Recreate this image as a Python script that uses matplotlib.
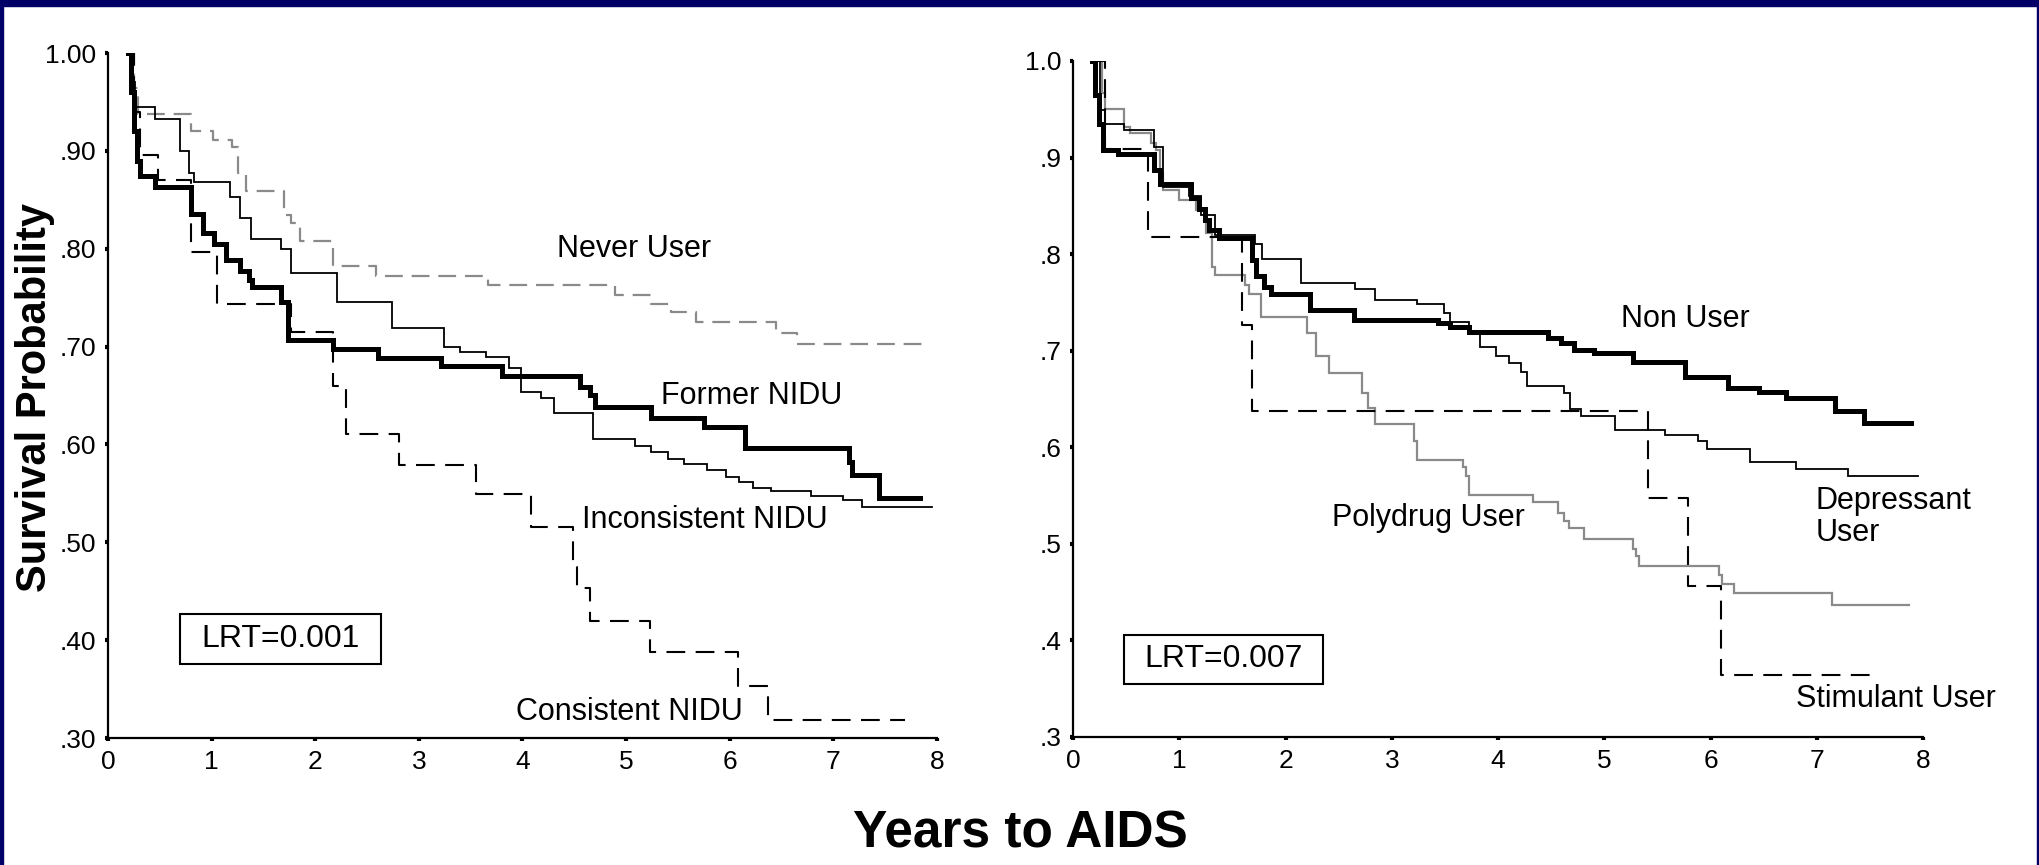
import matplotlib
matplotlib.use('Agg')
import matplotlib.pyplot as plt
from matplotlib.patches import Rectangle

plt.rcParams['font.family'] = ['Liberation Sans', 'DejaVu Sans']

# --- left panel: non-injection drug use groups (step change points, survival after step)
never_t = [0.19, 0.25, 0.29, 0.80, 1.01, 1.20, 1.26, 1.33, 1.70, 1.77, 1.85, 2.17, 2.59,
           3.67, 4.89, 5.24, 5.43, 5.67, 6.45, 6.65, 7.93]
never_s = [1.00, 0.964, 0.938, 0.920, 0.911, 0.904, 0.877, 0.859, 0.834, 0.826, 0.808, 0.782,
           0.772, 0.763, 0.753, 0.744, 0.735, 0.725, 0.714, 0.703, 0.703]

former_t = [0.19, 0.22, 0.25, 0.28, 0.31, 0.45, 0.80, 0.92, 1.02, 1.14, 1.27, 1.36, 1.39, 1.67,
            1.74, 2.17, 2.61, 3.21, 3.80, 4.56, 4.65, 4.70, 5.24, 5.75, 6.15, 7.15, 7.18, 7.44,
            7.84]
former_s = [1.00, 0.960, 0.920, 0.890, 0.874, 0.863, 0.836, 0.816, 0.805, 0.788, 0.777, 0.768,
            0.761, 0.746, 0.707, 0.698, 0.688, 0.680, 0.670, 0.659, 0.651, 0.638, 0.627, 0.618,
            0.596, 0.582, 0.569, 0.545, 0.545]

incons_t = [0.19, 0.22, 0.26, 0.45, 0.70, 0.78, 0.83, 1.18, 1.27, 1.38, 1.67, 1.77, 2.21, 2.74,
            3.24, 3.40, 3.65, 3.87, 3.99, 4.18, 4.30, 4.68, 5.09, 5.24, 5.40, 5.56, 5.78, 5.96,
            6.09, 6.22, 6.40, 6.78, 7.09, 7.28, 7.95]
incons_s = [1.00, 0.970, 0.945, 0.933, 0.900, 0.877, 0.868, 0.853, 0.831, 0.810, 0.800, 0.775,
            0.746, 0.719, 0.700, 0.694, 0.689, 0.678, 0.654, 0.647, 0.632, 0.606, 0.598, 0.592,
            0.585, 0.580, 0.574, 0.567, 0.562, 0.556, 0.552, 0.547, 0.543, 0.536, 0.536]

cons_t = [0.19, 0.25, 0.31, 0.48, 0.80, 1.05, 1.77, 2.17, 2.30, 2.81, 3.55, 4.08, 4.49, 4.53,
          4.65, 5.23, 6.08, 6.37, 7.69]
cons_s = [1.00, 0.940, 0.896, 0.870, 0.797, 0.744, 0.715, 0.660, 0.611, 0.579, 0.549, 0.516,
          0.475, 0.453, 0.420, 0.388, 0.353, 0.318, 0.318]

# --- right panel: drug type groups
nonuser_t = [0.175, 0.21, 0.245, 0.285, 0.42, 0.76, 0.82, 1.11, 1.19, 1.24, 1.28, 1.37, 1.68,
             1.72, 1.80, 1.86, 2.23, 2.64, 3.43, 3.55, 3.73, 4.47, 4.59, 4.71, 4.90, 5.27, 5.76,
             6.16, 6.46, 6.71, 7.17, 7.44, 7.89]
nonuser_s = [1.00, 0.965, 0.935, 0.908, 0.904, 0.887, 0.873, 0.858, 0.847, 0.835, 0.825, 0.817,
             0.794, 0.777, 0.766, 0.759, 0.742, 0.732, 0.729, 0.725, 0.719, 0.713, 0.708, 0.701,
             0.698, 0.688, 0.673, 0.661, 0.657, 0.651, 0.638, 0.625, 0.625]

depress_t = [0.205, 0.25, 0.30, 0.48, 0.76, 0.85, 1.09, 1.20, 1.34, 1.71, 1.78, 2.15, 2.65, 2.84,
             3.24, 3.49, 3.55, 3.73, 3.83, 3.98, 4.10, 4.22, 4.27, 4.62, 4.68, 4.78, 5.10, 5.57,
             5.88, 5.97, 6.37, 6.80, 7.29, 7.95]
depress_s = [1.00, 0.949, 0.935, 0.929, 0.911, 0.870, 0.860, 0.840, 0.820, 0.810, 0.795, 0.770,
             0.764, 0.752, 0.748, 0.739, 0.730, 0.718, 0.704, 0.695, 0.687, 0.678, 0.663, 0.656,
             0.640, 0.632, 0.618, 0.613, 0.606, 0.598, 0.585, 0.578, 0.570, 0.570]

poly_t = [0.20, 0.27, 0.30, 0.48, 0.54, 0.73, 0.78, 0.82, 0.85, 1.00, 1.16, 1.25, 1.31, 1.34,
          1.62, 1.66, 1.77, 2.20, 2.29, 2.41, 2.72, 2.78, 2.84, 3.21, 3.24, 3.67, 3.70, 3.73,
          4.33, 4.56, 4.62, 4.67, 4.81, 5.27, 5.30, 5.33, 6.08, 6.11, 6.22, 7.14, 7.87]
poly_s = [1.00, 0.967, 0.950, 0.932, 0.925, 0.915, 0.908, 0.884, 0.866, 0.856, 0.846, 0.822,
          0.787, 0.778, 0.768, 0.759, 0.735, 0.718, 0.694, 0.677, 0.656, 0.641, 0.624, 0.606,
          0.587, 0.580, 0.570, 0.551, 0.543, 0.532, 0.524, 0.516, 0.505, 0.495, 0.487, 0.477,
          0.468, 0.458, 0.449, 0.437, 0.437]

stim_t = [0.20, 0.30, 0.71, 1.59, 1.68, 5.41, 5.79, 6.10, 7.55]
stim_s = [1.00, 0.909, 0.818, 0.727, 0.638, 0.547, 0.456, 0.364, 0.364]

left_yticks = [0.30, 0.40, 0.50, 0.60, 0.70, 0.80, 0.90, 1.00]
left_ylabels = ['.30', '.40', '.50', '.60', '.70', '.80', '.90', '1.00']
right_yticks = [0.3, 0.4, 0.5, 0.6, 0.7, 0.8, 0.9, 1.0]
right_ylabels = ['.3', '.4', '.5', '.6', '.7', '.8', '.9', '1.0']
xticks = list(range(0, 9))

GRAY = '#8a8a8a'
NAVY = '#000066'

fig = plt.figure(figsize=(20.4, 8.65), dpi=100)
fig.patch.set_facecolor('white')

ax1 = fig.add_axes([0.0529, 0.1468, 0.4064, 0.7919])
ax2 = fig.add_axes([0.5260, 0.1480, 0.4167, 0.7815])


def style_axes(ax, yticks, ylabels):
    ax.set_xlim(0, 8)
    ax.set_ylim(0.30, 1.00)
    for side in ['top', 'right']:
        ax.spines[side].set_visible(False)
    for side in ['left', 'bottom']:
        ax.spines[side].set_linewidth(1.6)
    ax.set_xticks(xticks)
    ax.set_xticklabels([str(v) for v in xticks])
    ax.set_yticks(yticks)
    ax.set_yticklabels(ylabels)
    ax.tick_params(direction='out', length=2.5, width=3, labelsize=19, pad=6)


def km(ax, t, s, **kw):
    ax.step(t, s, where='post', solid_joinstyle='miter', **kw)


def lrt_box(ax, x0, y0, w, h, label):
    # boxed log-rank test p-value, placed in axes fractions
    ax.add_patch(Rectangle((x0, y0), w, h, transform=ax.transAxes, fc='white',
                           ec='black', lw=1.5, zorder=5))
    ax.text(x0 + w / 2, y0 + h / 2, label, transform=ax.transAxes, fontsize=23,
            ha='center', va='center', zorder=6)


km(ax1, never_t, never_s, color=GRAY, lw=1.6, linestyle=(0, (8, 4)))
km(ax1, incons_t, incons_s, color='black', lw=1.3)
km(ax1, former_t, former_s, color='black', lw=3.6)
km(ax1, cons_t, cons_s, color='black', lw=1.5, linestyle=(0, (9, 5)))
style_axes(ax1, left_yticks, left_ylabels)

lab = dict(fontsize=22, va='center', ha='left')
ax1.text(4.33, 0.800, 'Never User', **lab)
ax1.text(5.34, 0.649, 'Former NIDU', **lab)
ax1.text(4.57, 0.523, 'Inconsistent NIDU', **lab)
ax1.text(3.94, 0.327, 'Consistent NIDU', **lab)
lrt_box(ax1, 0.0869, 0.108, 0.2425, 0.073, 'LRT=0.001')

km(ax2, poly_t, poly_s, color=GRAY, lw=1.6)
km(ax2, depress_t, depress_s, color='black', lw=1.3)
km(ax2, nonuser_t, nonuser_s, color='black', lw=3.6)
km(ax2, stim_t, stim_s, color='black', lw=1.5, linestyle=(0, (9, 5)))
style_axes(ax2, right_yticks, right_ylabels)

ax2.text(5.16, 0.733, 'Non User', **lab)
ax2.text(6.99, 0.528, 'Depressant\nUser', fontsize=22, va='center', ha='left', linespacing=1.1)
ax2.text(2.44, 0.527, 'Polydrug User', **lab)
ax2.text(6.80, 0.339, 'Stimulant User', **lab)
lrt_box(ax2, 0.060, 0.0784, 0.234, 0.0725, 'LRT=0.007')

fig.text(0.017, 0.541, 'Survival Probability', rotation=90, fontsize=30,
         fontweight='bold', ha='center', va='center')
fig.text(0.5, 0.036, 'Years to AIDS', fontsize=37, fontweight='bold',
         ha='center', va='center')

# navy frame along the top and sides
fig.patches.append(Rectangle((0, 1 - 6 / 865), 1, 6 / 865, transform=fig.transFigure,
                             color=NAVY, zorder=10))
fig.patches.append(Rectangle((0, 0), 3 / 2040, 1, transform=fig.transFigure,
                             color=NAVY, zorder=10))
fig.patches.append(Rectangle((1 - 3 / 2040, 0), 3 / 2040, 1, transform=fig.transFigure,
                             color=NAVY, zorder=10))

fig.savefig('out.png', dpi=100, facecolor='white')
